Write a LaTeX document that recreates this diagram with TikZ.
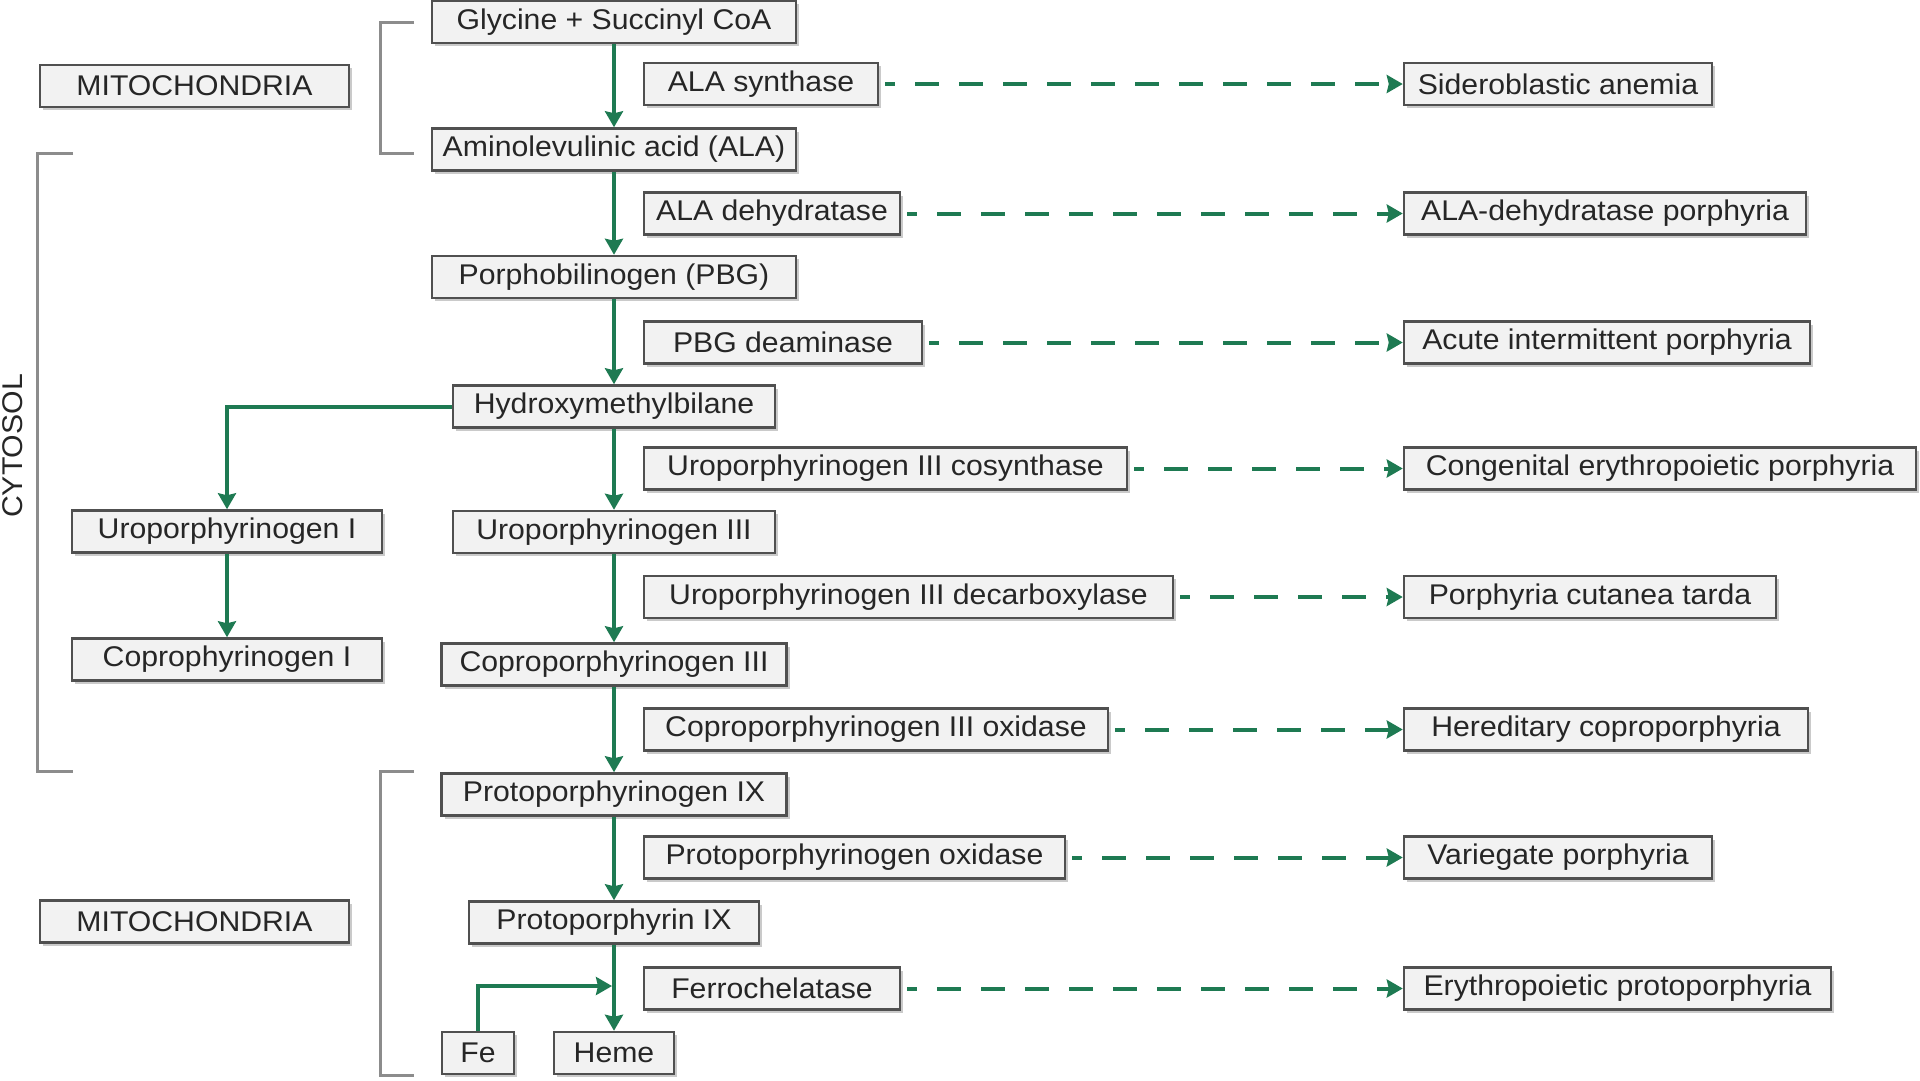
\documentclass[tikz,border=0pt]{standalone}
\usepackage{fontspec}
\setmainfont[FakeStretch=1.06]{Liberation Sans}
\usetikzlibrary{arrows.meta,shadows}
\definecolor{pathgreen}{RGB}{30,122,82}
\definecolor{boxfill}{RGB}{242,242,242}
\definecolor{boxline}{RGB}{80,80,80}
\definecolor{brackgray}{RGB}{140,140,140}

\begin{document}
\begin{tikzpicture}[x=1pt,y=-1pt,
    font=\fontsize{28.5}{34}\selectfont,
    box/.style={draw=boxline, line width=2.5pt, fill=boxfill, inner sep=2pt,
        minimum height=42pt, text=black!85,
        drop shadow={shadow xshift=3pt, shadow yshift=-3pt, fill=black!35, opacity=0.6}},
    flow/.style={draw=pathgreen, line width=4pt, -{Stealth[length=16pt,width=18pt,inset=2pt]}},
    defect/.style={draw=pathgreen, line width=4pt, dash pattern=on 24pt off 20pt, dash phase=14pt,
        -{Stealth[length=16pt,width=18pt,inset=2pt]}},
    bracket/.style={draw=brackgray, line width=3pt}]
    \useasboundingbox (0,0) rectangle (1920,1080);

    % Compartments
    \draw[bracket] (414,22) -- (380,22) -- (380,153) -- (414,153);
    \draw[bracket] (73,153) -- (37,153) -- (37,771) -- (73,771);
    \draw[bracket] (414,771) -- (380,771) -- (380,1075) -- (414,1075);
    \node[box, minimum width=309pt] (mitotop) at (194.5,86) {MITOCHONDRIA};
    \node[box, minimum width=309pt] (mitobot) at (194.5,921.5) {MITOCHONDRIA};
    \node[rotate=90, text=black!85] (cytosol) at (13,446) {CYTOSOL};

    % Main pathway
    \node[box, minimum width=364pt] (gly) at (614,22) {Glycine + Succinyl CoA};
    \node[box, minimum width=364pt] (ala) at (614,149.5) {Aminolevulinic acid (ALA)};
    \node[box, minimum width=364pt] (pbg) at (614,277) {Porphobilinogen (PBG)};
    \node[box, minimum width=322pt] (hmb) at (614,406.5) {Hydroxymethylbilane};
    \node[box, minimum width=322pt] (uro3) at (614,532) {Uroporphyrinogen III};
    \node[box, minimum width=345pt] (copro3) at (614,664.5) {Coproporphyrinogen III};
    \node[box, minimum width=345pt] (protogen) at (614,794.5) {Protoporphyrinogen IX};
    \node[box, minimum width=290pt] (proto) at (614,922.5) {Protoporphyrin IX};
    \node[box, minimum width=120pt] (heme) at (614,1053) {Heme};
    \node[box, minimum width=72pt] (fe) at (478,1053) {Fe};

    % Type I side branch
    \node[box, minimum width=310pt] (uro1) at (227,531.5) {Uroporphyrinogen I};
    \node[box, minimum width=310pt] (copro1) at (227,659.5) {Coprophyrinogen I};

    % Enzymes
    \node[box, minimum width=234pt] (alas) at (761,84) {ALA synthase};
    \node[box, minimum width=256pt] (alad) at (772,213.5) {ALA dehydratase};
    \node[box, minimum width=278pt] (pbgd) at (783,342.5) {PBG deaminase};
    \node[box, minimum width=483pt] (uros) at (885.5,468.5) {Uroporphyrinogen III cosynthase};
    \node[box, minimum width=529pt] (urod) at (908.5,597) {Uroporphyrinogen III decarboxylase};
    \node[box, minimum width=464pt] (cpox) at (876,729.5) {Coproporphyrinogen III oxidase};
    \node[box, minimum width=421pt] (ppox) at (854.5,857.5) {Protoporphyrinogen oxidase};
    \node[box, minimum width=256pt] (fech) at (772,988.5) {Ferrochelatase};

    % Disorders
    \node[box, minimum width=308pt] (sider) at (1558,84) {Sideroblastic anemia};
    \node[box, minimum width=402pt] (aladp) at (1605,213.5) {ALA-dehydratase porphyria};
    \node[box, minimum width=406pt] (aip) at (1607,342.5) {Acute intermittent porphyria};
    \node[box, minimum width=512pt] (cep) at (1660,468.5) {Congenital erythropoietic porphyria};
    \node[box, minimum width=372pt] (pct) at (1590,597) {Porphyria cutanea tarda};
    \node[box, minimum width=404pt] (hcp) at (1606,729.5) {Hereditary coproporphyria};
    \node[box, minimum width=308pt] (vp) at (1558,857.5) {Variegate porphyria};
    \node[box, minimum width=427pt] (epp) at (1617.5,988.5) {Erythropoietic protoporphyria};

    % Pathway arrows
    \draw[flow] (gly) -- (ala);
    \draw[flow] (ala) -- (pbg);
    \draw[flow] (pbg) -- (hmb);
    \draw[flow] (hmb) -- (uro3);
    \draw[flow] (uro3) -- (copro3);
    \draw[flow] (copro3) -- (protogen);
    \draw[flow] (protogen) -- (proto);
    \draw[flow] (proto) -- (heme);
    \draw[flow] (hmb.west) -| (uro1.north);
    \draw[flow] (uro1) -- (copro1);
    \coordinate (fejoin) at (612,986);
    \draw[flow] (fe.north) |- (fejoin);

    % Enzyme defects
    \draw[defect, shorten <=6pt] (alas.east) -- (sider.west);
    \draw[defect, shorten <=6pt] (alad.east) -- (aladp.west);
    \draw[defect, shorten <=6pt] (pbgd.east) -- (aip.west);
    \draw[defect, shorten <=6pt] (uros.east) -- (cep.west);
    \draw[defect, shorten <=6pt] (urod.east) -- (pct.west);
    \draw[defect, shorten <=6pt] (cpox.east) -- (hcp.west);
    \draw[defect, shorten <=6pt] (ppox.east) -- (vp.west);
    \draw[defect, shorten <=6pt] (fech.east) -- (epp.west);
\end{tikzpicture}
\end{document}
